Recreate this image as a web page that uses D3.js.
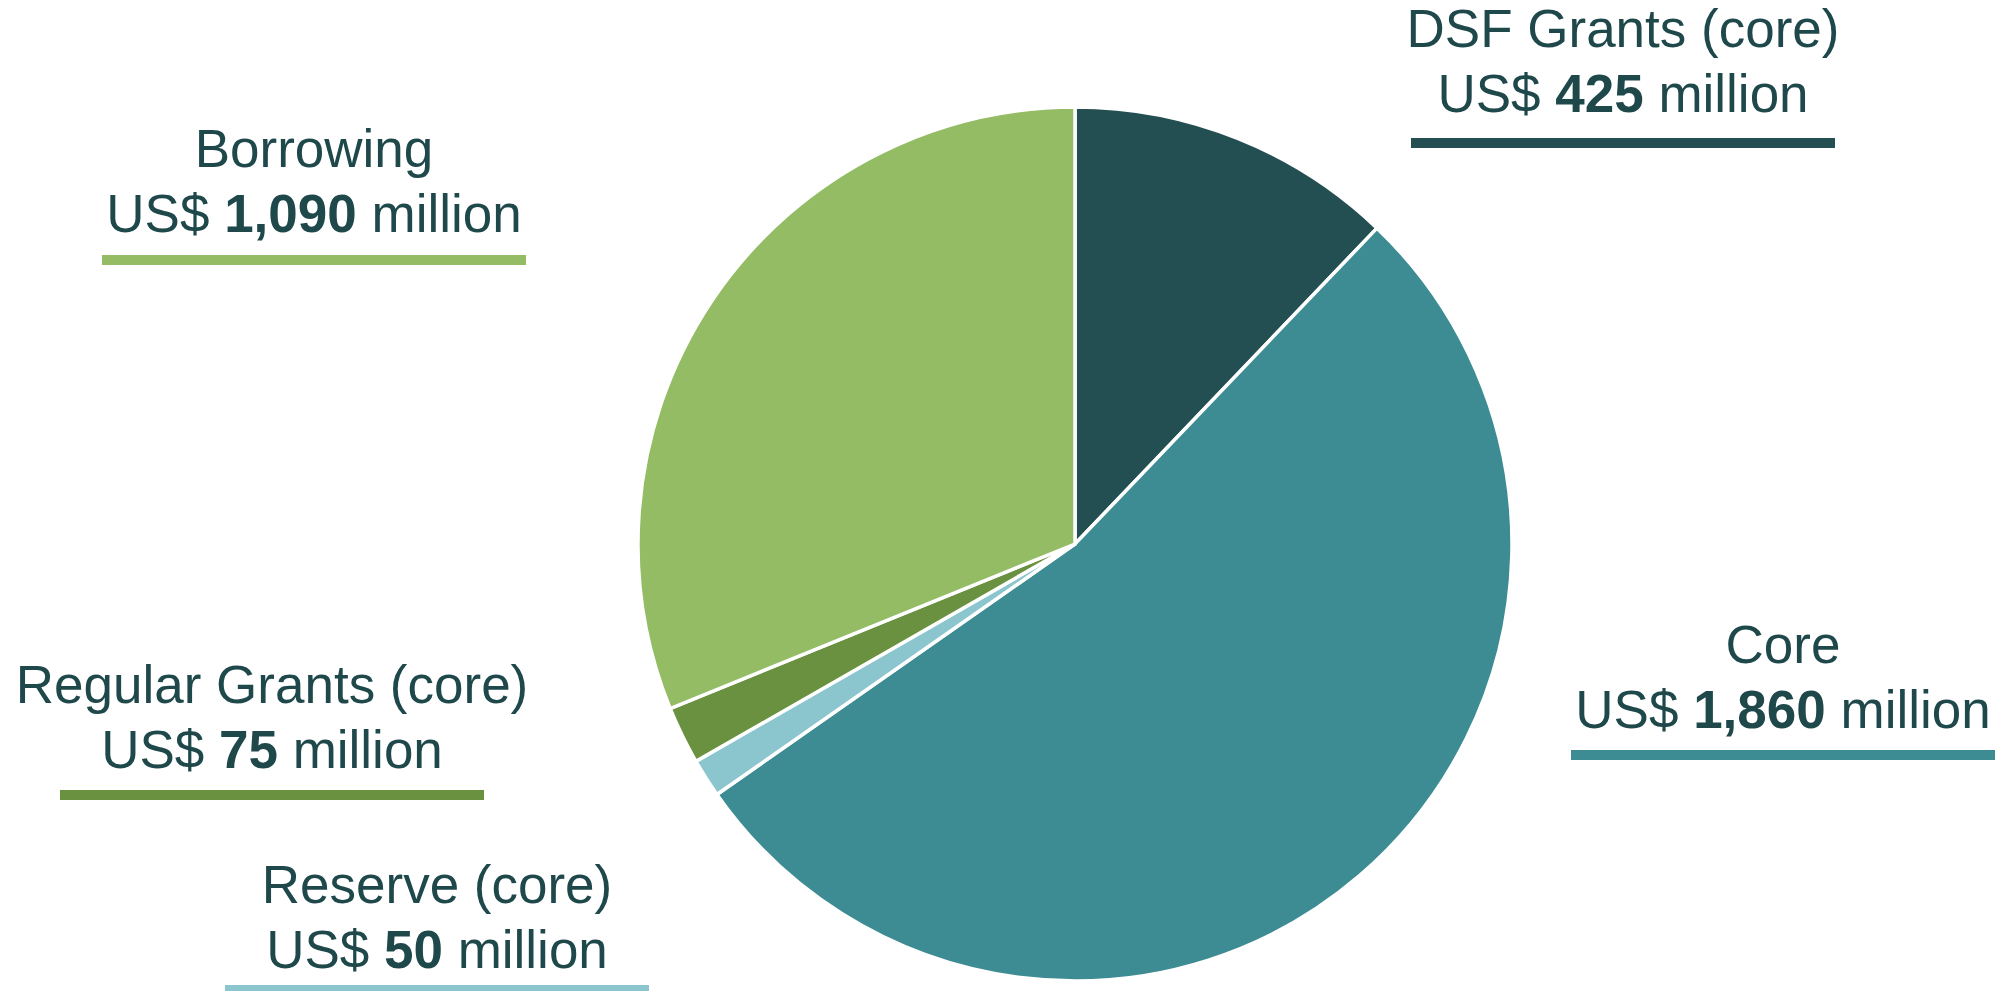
<!DOCTYPE html>
<html><head><meta charset="utf-8">
<script src="https://cdn.jsdelivr.net/npm/d3@7"></script>
<style>html,body{margin:0;padding:0;background:#fff;overflow:hidden}</style>
</head><body>
<svg id="chart" width="2003" height="991"></svg>
<script>
const categories = ["DSF Grants (core)", "Core", "Reserve (core)", "Regular Grants (core)", "Borrowing"];
const values = [425, 1860, 50, 75, 1090];
const valueLabels = ["425", "1,860", "50", "75", "1,090"];
const colors = ["#234E52", "#3E8C93", "#8BC5CD", "#6A9140", "#93BC65"];

// label layout (center x, first baseline y, underline y) — styling, not data
const labelPos = [
  {x: 1623, y: 47, barY: 138},
  {x: 1783, y: 663, barY: 750},
  {x: 437, y: 903, barY: 985},
  {x: 272, y: 703, barY: 790},
  {x: 314, y: 167, barY: 255}
];

const svg = d3.select("#chart");
const cx = 1075, cy = 544, r = 437;
const textColor = "#1F484B";
const font = "Arial, 'Liberation Sans', Helvetica, sans-serif";

const data = categories.map((c, i) => ({name: c, value: values[i], label: valueLabels[i], color: colors[i], pos: labelPos[i]}));

const pie = d3.pie().value(d => d.value).sort(null);
const arc = d3.arc().innerRadius(0).outerRadius(r);

svg.append("g").attr("transform", `translate(${cx},${cy})`)
  .selectAll("path").data(pie(data)).join("path")
  .attr("d", arc).attr("fill", d => d.data.color)
  .attr("stroke", "#fff").attr("stroke-width", 3.5).attr("stroke-linejoin", "miter");

const lab = svg.append("g").selectAll("g").data(data).join("g")
  .attr("transform", d => `translate(${d.pos.x},0)`);

lab.append("text").attr("text-anchor", "middle").attr("y", d => d.pos.y)
  .style("font-family", font).attr("font-size", 53)
  .attr("fill", textColor).text(d => d.name);

const t2 = lab.append("text").attr("text-anchor", "middle").attr("y", d => d.pos.y + 65)
  .style("font-family", font).attr("font-size", 53)
  .attr("fill", textColor);
t2.append("tspan").text("US$ ");
t2.append("tspan").attr("font-weight", "bold").text(d => d.label);
t2.append("tspan").text(" million");

lab.append("rect").attr("x", -212).attr("y", d => d.pos.barY).attr("width", 424).attr("height", 10)
  .attr("fill", d => d.color);
</script>
</body></html>
